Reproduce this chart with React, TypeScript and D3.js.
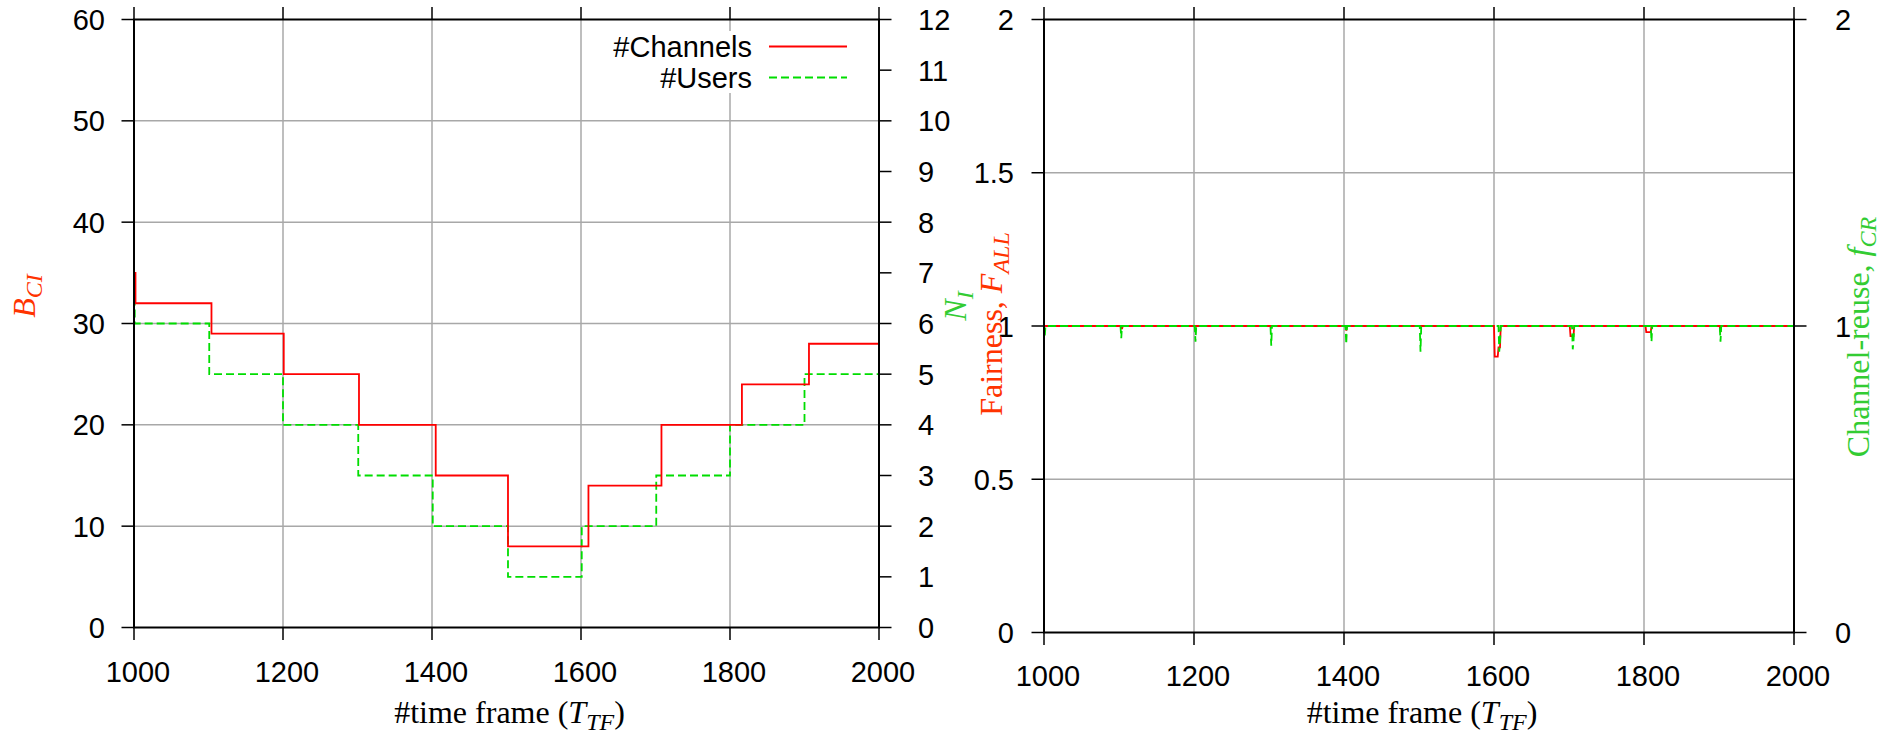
import React from 'react';
import * as d3 from 'd3';

// left panel: number of channels (B_CI, left axis) and users (N_I, right axis)
const channelT = [1000, 1002, 1104, 1201, 1302, 1405, 1502, 1610, 1708, 1816, 1906, 2000];
const channelV = [35, 32, 29, 25, 20, 15, 8, 14, 20, 24, 28, 28];
const userT = [1000, 1001, 1101, 1200, 1301, 1401, 1502, 1601, 1701, 1800, 1900, 2000];
const userV = [6.5, 6, 5, 4, 3, 2, 1, 2, 3, 4, 5, 5];

// right panel: fairness (F_ALL) and channel reuse (f_CR)
const fairT = [1000, 1103, 1104, 1105, 1402, 1403, 1404, 1600, 1601, 1605, 1606, 1608, 1609, 1701, 1702, 1706, 1707, 1802, 1803, 1809, 1810, 1901, 1902, 1903, 2000];
const fairV = [1, 1, 0.99, 1, 1, 0.985, 1, 1, 0.9, 0.9, 0.93, 0.93, 1, 1, 0.967, 0.967, 1, 1, 0.98, 0.98, 1, 1, 0.98, 1, 1];
const reuseT = [1000, 1001, 1002, 1102, 1103, 1104, 1201, 1202, 1203, 1302, 1303, 1304, 1402, 1403, 1404, 1501, 1502, 1503, 1606, 1607, 1608, 1609, 1704, 1705, 1706, 1707, 1809, 1810, 1811, 1901, 1902, 1903, 2000];
const reuseV = [1, 0.965, 1, 1, 0.96, 1, 1, 0.949, 1, 1, 0.936, 1, 1, 0.941, 1, 1, 0.916, 1, 1, 0.916, 0.95, 1, 1, 0.924, 0.95, 1, 1, 0.949, 1, 1, 0.949, 1, 1];

const xTicks = [1000, 1200, 1400, 1600, 1800, 2000];
const leftTicks = [0, 10, 20, 30, 40, 50, 60];
const userTicks = [0, 1, 2, 3, 4, 5, 6, 7, 8, 9, 10, 11, 12];
const fairTicks = [0, 0.5, 1, 1.5, 2];
const reuseTicks = [0, 1, 2];

const RED = '#ff0000';
const GREEN = '#00dd00';
const RED_LABEL = '#ff3300';
const GREEN_LABEL = '#33cc33';
const GRID = '#a8a8a8';
const SANS = '"Liberation Sans", Arial, sans-serif';
const SERIF = '"Liberation Serif", "Times New Roman", serif';
const TICK = 12.5;

function zip(ts: number[], vs: number[]): [number, number][] {
  return ts.map((t, i) => [t, vs[i]]);
}

function Panel(props: any) {
  const { x0, x1, yTop, yBot, yDomain, yTicks, y2Domain, y2Ticks, gridTicks, lLabelX, rLabelX, xLabelY, children } = props;
  const x = d3.scaleLinear().domain([1000, 2000]).range([x0, x1]);
  const y = d3.scaleLinear().domain(yDomain).range([yBot, yTop]);
  const y2 = d3.scaleLinear().domain(y2Domain).range([yBot, yTop]);

  return (
    <g>
      {/* grid */}
      {xTicks.slice(1, -1).map(t => (
        <line key={'gx' + t} x1={x(t)} x2={x(t)} y1={yTop} y2={yBot} stroke={GRID} strokeWidth={1.5} />
      ))}
      {gridTicks.map((t: number) => (
        <line key={'gy' + t} x1={x0} x2={x1} y1={y(t)} y2={y(t)} stroke={GRID} strokeWidth={1.5} />
      ))}
      {children(x, y, y2)}
      {/* border */}
      <rect x={x0} y={yTop} width={x1 - x0} height={yBot - yTop} fill="none" stroke="#000" strokeWidth={2} />
      {/* x ticks, bottom and top, outward */}
      {xTicks.map(t => (
        <g key={'xt' + t}>
          <line x1={x(t)} x2={x(t)} y1={yBot} y2={yBot + TICK} stroke="#000" strokeWidth={1.5} />
          <line x1={x(t)} x2={x(t)} y1={yTop} y2={yTop - TICK} stroke="#000" strokeWidth={1.5} />
          <text x={x(t) + 4} y={xLabelY} textAnchor="middle" fontFamily={SANS} fontSize={29}>{t}</text>
        </g>
      ))}
      {yTicks.map((t: number) => (
        <g key={'yt' + t}>
          <line x1={x0} x2={x0 - TICK} y1={y(t)} y2={y(t)} stroke="#000" strokeWidth={1.5} />
          <text x={lLabelX} y={y(t) + 10.5} textAnchor="end" fontFamily={SANS} fontSize={29}>{t}</text>
        </g>
      ))}
      {y2Ticks.map((t: number) => (
        <g key={'y2t' + t}>
          <line x1={x1} x2={x1 + TICK} y1={y2(t)} y2={y2(t)} stroke="#000" strokeWidth={1.5} />
          <text x={rLabelX} y={y2(t) + 10.5} textAnchor="start" fontFamily={SANS} fontSize={29}>{t}</text>
        </g>
      ))}
      <text x={(x0 + x1) / 2 + 3} y={723} textAnchor="middle" fontFamily={SERIF} fontSize={32}>
        #time frame (<tspan fontStyle="italic">T</tspan>
        <tspan fontStyle="italic" fontSize={24} dy={7}>TF</tspan>
        <tspan dy={-7}>)</tspan>
      </text>
    </g>
  );
}

export default function App() {
  const step = d3.line().curve(d3.curveStepAfter);
  const plain = d3.line();

  return (
    <svg width={1880} height={735} style={{ position: 'absolute', left: 0, top: 0, background: '#fff' }}>
      <rect width={1880} height={735} fill="#fff" />
      <Panel x0={134} x1={879} yTop={19.5} yBot={627.5}
        yDomain={[0, 60]} yTicks={leftTicks} y2Domain={[0, 12]} y2Ticks={userTicks}
        gridTicks={[10, 20, 30, 40, 50]} lLabelX={105} rLabelX={918} xLabelY={682}>
        {(x: any, y: any, y2: any) => {
          const lc = d3.line<[number, number]>().curve(d3.curveStepAfter).x(d => x(d[0])).y(d => y(d[1]));
          const lu = d3.line<[number, number]>().curve(d3.curveStepAfter).x(d => x(d[0])).y(d => y2(d[1]));
          return (
            <g>
              {/* opaque key */}
              <rect x={605} y={31} width={250} height={62} fill="#fff" />
              <text x={752} y={57} textAnchor="end" fontFamily={SANS} fontSize={29}>#Channels</text>
              <line x1={769} x2={847} y1={46.5} y2={46.5} stroke={RED} strokeWidth={1.8} />
              <text x={752} y={88} textAnchor="end" fontFamily={SANS} fontSize={29}>#Users</text>
              <line x1={769} x2={847} y1={77.5} y2={77.5} stroke={GREEN} strokeWidth={1.8} strokeDasharray="8,4" />
              <path d={lu(zip(userT, userV)) || ''} fill="none" stroke={GREEN} strokeWidth={1.8} strokeDasharray="8,4" />
              <path d={lc(zip(channelT, channelV)) || ''} fill="none" stroke={RED} strokeWidth={1.8} />
            </g>
          );
        }}
      </Panel>
      <Panel x0={1044} x1={1794} yTop={19.5} yBot={632.5}
        yDomain={[0, 2]} yTicks={fairTicks} y2Domain={[0, 2]} y2Ticks={reuseTicks}
        gridTicks={[0.5, 1.5]} lLabelX={1014} rLabelX={1835} xLabelY={686}>
        {(x: any, y: any, y2: any) => {
          const lf = d3.line<[number, number]>().x(d => x(d[0])).y(d => y(d[1]));
          const lr = d3.line<[number, number]>().x(d => x(d[0])).y(d => y2(d[1]));
          return (
            <g>
              <path d={lf(zip(fairT, fairV)) || ''} fill="none" stroke={RED} strokeWidth={1.8} />
              <path d={lr(zip(reuseT, reuseV)) || ''} fill="none" stroke={GREEN} strokeWidth={1.8} strokeDasharray="8,4" />
            </g>
          );
        }}
      </Panel>

      {/* axis titles */}
      <text transform="translate(34.5,296) rotate(-90)" textAnchor="middle" fontFamily={SERIF} fontSize={32} fill={RED_LABEL} fontStyle="italic">
        B<tspan fontSize={24} dy={7}>CI</tspan>
      </text>
      <text transform="translate(966,306) rotate(-90)" textAnchor="middle" fontFamily={SERIF} fontSize={32} fill={GREEN_LABEL} fontStyle="italic">
        N<tspan fontSize={24} dy={7}>I</tspan>
      </text>
      <text transform="translate(1002,324) rotate(-90)" textAnchor="middle" fontFamily={SERIF} fontSize={32} fill={RED_LABEL}>
        Fairness, <tspan fontStyle="italic">F</tspan><tspan fontStyle="italic" fontSize={24} dy={7}>ALL</tspan>
      </text>
      <text transform="translate(1869,337) rotate(-90)" textAnchor="middle" fontFamily={SERIF} fontSize={32} fill={GREEN_LABEL}>
        Channel-reuse, <tspan fontStyle="italic">f</tspan><tspan fontStyle="italic" fontSize={24} dy={7}>CR</tspan>
      </text>
    </svg>
  );
}
